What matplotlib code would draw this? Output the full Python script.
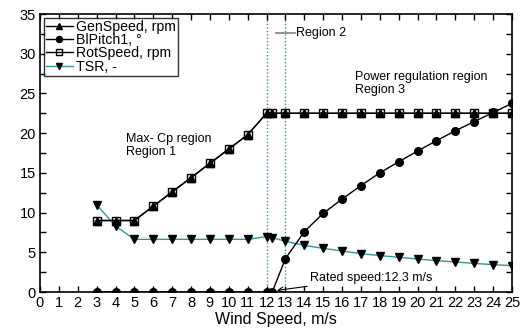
import matplotlib
matplotlib.use("Agg")
import matplotlib.pyplot as plt
from matplotlib.ticker import MultipleLocator

plt.rcParams['font.family'] = ['Liberation Sans', 'DejaVu Sans']

wind = [3, 4, 5, 6, 7, 8, 9, 10, 11, 12, 12.3, 13, 14, 15, 16, 17, 18, 19, 20, 21, 22, 23, 24, 25]
rot_speed = [9.0, 9.0, 9.0, 10.8, 12.6, 14.4, 16.2, 18.0, 19.8, 22.5, 22.5, 22.5, 22.5, 22.5,
             22.5, 22.5, 22.5, 22.5, 22.5, 22.5, 22.5, 22.5, 22.5, 22.5]
gen_speed = list(rot_speed)
pitch = [0, 0, 0, 0, 0, 0, 0, 0, 0, 0, 0, 4.2, 7.6, 9.9, 11.7, 13.4, 15.0, 16.4, 17.75,
         19.05, 20.3, 21.45, 22.6, 23.75]
tsr = [11.0, 8.3, 6.63, 6.63, 6.63, 6.63, 6.63, 6.63, 6.63, 6.97, 6.85, 6.38, 5.87, 5.5,
       5.16, 4.83, 4.58, 4.37, 4.15, 3.95, 3.78, 3.6, 3.44, 3.32]

teal = '#2a9a9a'

fig = plt.figure(figsize=(5.28, 3.32), dpi=100)
ax = fig.add_axes([40/528, 1 - 292/332, 472/528, 278/332])

ax.plot(wind, gen_speed, color='black', lw=1, marker='^', ms=5.5, label='GenSpeed, rpm', zorder=4)
ax.plot(wind, pitch, color='black', lw=1, marker='o', ms=5.5, label='BlPitch1, °', zorder=4)
ax.plot(wind, rot_speed, color='black', lw=1, marker='s', ms=5.5, mfc='none', mew=1,
        label='RotSpeed, rpm', zorder=3)
ax.plot(wind, tsr, color=teal, lw=1, marker='v', ms=5.5, mfc='black', mec='black',
        label='TSR, -', zorder=3)

ax.axvline(12, color=teal, lw=1, ls=(0, (1, 1.5)), zorder=1)
ax.axvline(13, color=teal, lw=1, ls=(0, (1, 1.5)), zorder=1)

ax.set_xlim(0, 25)
ax.set_ylim(0, 35)
ax.xaxis.set_major_locator(MultipleLocator(1))
ax.yaxis.set_major_locator(MultipleLocator(5))
ax.yaxis.set_minor_locator(MultipleLocator(2.5))
ax.tick_params(which='both', direction='in', top=True, right=True, labelsize=10.5,
               width=1, pad=3)
ax.tick_params(which='major', length=4)
ax.tick_params(which='minor', length=4)
for s in ax.spines.values():
    s.set_linewidth(1.2)

ax.set_xlabel('Wind Speed, m/s', fontsize=11.5, labelpad=1)

ax.plot([12.5, 13.5], [32.6, 32.6], color='gray', lw=1.2)
ax.text(13.55, 32.6, 'Region 2', fontsize=9, va='center', ha='left')
ax.text(16.7, 26.2, 'Power regulation region\nRegion 3', fontsize=9, va='center', ha='left',
        linespacing=1.1)
ax.text(4.55, 18.5, 'Max- Cp region\nRegion 1', fontsize=9, va='center', ha='left',
        linespacing=1.1)
ax.annotate('Rated speed:12.3 m/s', xy=(12.55, 0.2), xytext=(14.3, 1.8), fontsize=9,
            va='center', ha='left',
            arrowprops=dict(arrowstyle='->', color='black', lw=0.8, shrinkA=0, shrinkB=0))

leg = ax.legend(loc='upper left', fontsize=10.2, frameon=True, fancybox=False,
                borderaxespad=0.25, handlelength=1.9, handletextpad=0.25, labelspacing=-0.05,
                borderpad=0.15, markerscale=0.8)
leg.get_frame().set_edgecolor('black')
leg.get_frame().set_linewidth(1)

fig.savefig('out.png', dpi=100)
